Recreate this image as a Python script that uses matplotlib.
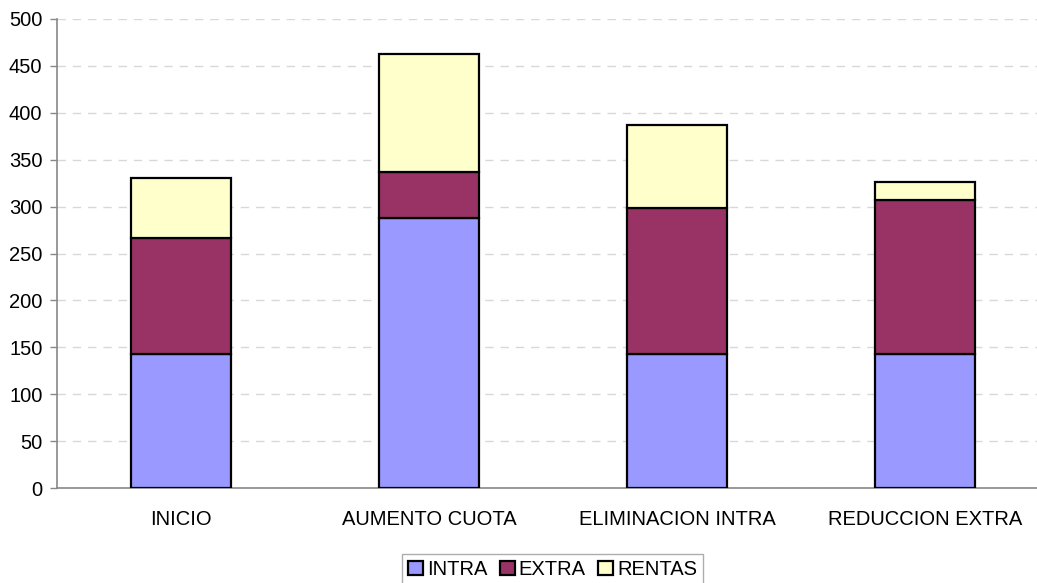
import matplotlib
matplotlib.use("Agg")
import matplotlib.pyplot as plt
import numpy as np

categories = ["INICIO", "AUMENTO CUOTA", "ELIMINACION INTRA", "REDUCCION EXTRA"]
intra = [143, 288, 143, 143]
extra = [124, 49, 155, 164]
rentas = [64, 126, 89, 19]
series_names = ["INTRA", "EXTRA", "RENTAS"]
colors = ["#9999FF", "#993366", "#FFFFCC"]

plt.rcParams['font.family'] = ['Liberation Sans', 'DejaVu Sans']

W, H = 1037, 583
fig = plt.figure(figsize=(W/100, H/100), dpi=100)
ax = fig.add_axes([57/W, (H-488)/H, 992/W, (488-19)/H])

x = np.arange(len(categories))
bw = 100/248
bottom = np.zeros(len(categories))
handles = []
for vals, name, c in zip([intra, extra, rentas], series_names, colors):
    b = ax.bar(x, vals, bw, bottom=bottom, color=c, edgecolor='black', linewidth=1.6,
               label=name, zorder=3)
    bottom += np.array(vals)
    handles.append(b)

ax.set_xlim(-0.5, 3.5)
ax.set_ylim(0, 500)
ax.set_yticks(np.arange(0, 501, 50))
ax.set_xticks(x)
ax.set_xticklabels(categories, fontsize=14.5)
ax.tick_params(axis='x', length=0, pad=16)
ax.tick_params(axis='y', length=5, width=1, color='#888888', labelsize=14.5, pad=5.5, direction='out')
ax.yaxis.grid(True, linestyle=(0, (6, 5)), color='#d8d8d8', linewidth=1, zorder=0)
ax.set_axisbelow(True)
for s in ['top', 'right']:
    ax.spines[s].set_visible(False)
ax.spines['left'].set_color('#888888')
ax.spines['bottom'].set_color('#888888')
ax.spines['left'].set_linewidth(1.2)
ax.spines['bottom'].set_linewidth(1.2)

leg = fig.legend(handles=handles, labels=series_names, loc='upper center',
                 bbox_to_anchor=(552.5/W, (H-554)/H), ncol=3, frameon=True, fancybox=False,
                 fontsize=14.5, handlelength=0.75, handleheight=0.75, handletextpad=0.2,
                 columnspacing=0.6, borderpad=0.3, borderaxespad=0)
leg.get_frame().set_edgecolor('#999999')
leg.get_frame().set_linewidth(1)

fig.savefig("out.png", dpi=100)
